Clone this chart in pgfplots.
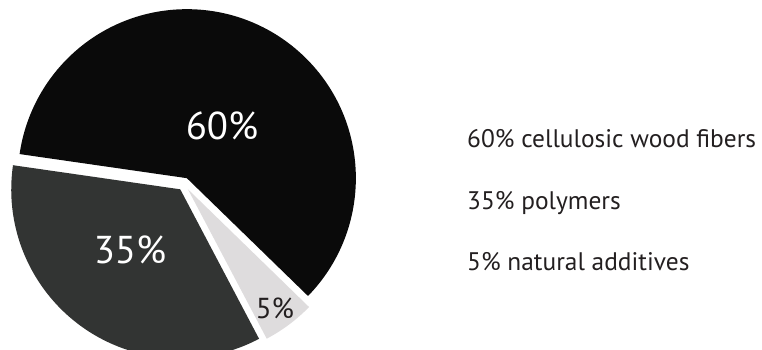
\documentclass[border=0pt]{standalone}
\usepackage{pgfplots}
\pgfplotsset{compat=1.18}
\usepackage{pgfplotstable}
\usepackage{fontspec}
\setmainfont{PT Sans}
\usetikzlibrary{calc}
\definecolor{sliceA}{HTML}{0A0A0A}
\definecolor{sliceB}{HTML}{323433}
\definecolor{sliceC}{HTML}{DEDCDD}
\definecolor{txt}{HTML}{231F20}

\pgfplotstableread{
value label
60 {cellulosic wood fibers}
35 {polymers}
5 {natural additives}
}\piedata

\begin{document}
\begin{tikzpicture}
\pgfplotstablegetelem{0}{value}\of\piedata \let\vA\pgfplotsretval
\pgfplotstablegetelem{1}{value}\of\piedata \let\vB\pgfplotsretval
\pgfplotstablegetelem{2}{value}\of\piedata \let\vC\pgfplotsretval
\pgfplotstablegetelem{0}{label}\of\piedata \let\lA\pgfplotsretval
\pgfplotstablegetelem{1}{label}\of\piedata \let\lB\pgfplotsretval
\pgfplotstablegetelem{2}{label}\of\piedata \let\lC\pgfplotsretval
\pgfmathsetmacro\sA{-44.2}
\pgfmathsetmacro\eA{\sA+3.6*\vA}
\pgfmathsetmacro\mA{(\sA+\eA)/2}
\pgfmathsetmacro\sB{\eA}
\pgfmathsetmacro\eB{\sB+3.6*\vB}
\pgfmathsetmacro\mB{(\sB+\eB)/2}
\pgfmathsetmacro\sC{\eB}
\pgfmathsetmacro\eC{\sC+3.6*\vC}
\pgfmathsetmacro\mC{(\sC+\eC)/2}
\path[use as bounding box] (0,0) rectangle (762bp,350bp);
\begin{axis}[
  at={(0,0)}, anchor=south west,
  x=1bp, y=1bp, xmin=0, xmax=762, ymin=0, ymax=350,
  scale only axis, hide axis, clip=true,
]
\fill[sliceA] ($(axis cs:184,166)+(\mA:6.5bp)$) -- +(\sA:169bp) arc[start angle=\sA, end angle=\eA, radius=169bp] -- cycle;
\fill[sliceB] ($(axis cs:184,166)+(\mB:6.5bp)$) -- +(\sB:169bp) arc[start angle=\sB, end angle=\eB, radius=169bp] -- cycle;
\fill[sliceC] ($(axis cs:184,166)+(\mC:6.5bp)$) -- +(\sC:169bp) arc[start angle=\sC, end angle=\eC, radius=169bp] -- cycle;
\node[white, font=\fontsize{39}{44}\selectfont] at (axis cs:222,224) {\vA\%};
\node[white, font=\fontsize{39}{44}\selectfont] at (axis cs:130,100) {\vB\%};
\node[txt, font=\fontsize{29}{34}\selectfont] at (axis cs:275,42) {\vC\%};
\node[txt, anchor=base west, inner sep=0pt, font=\fontsize{25.5}{30}\selectfont] at (axis cs:467,203) {\vA\% \lA};
\node[txt, anchor=base west, inner sep=0pt, font=\fontsize{25.5}{30}\selectfont] at (axis cs:467,141) {\vB\% \lB};
\node[txt, anchor=base west, inner sep=0pt, font=\fontsize{25.5}{30}\selectfont] at (axis cs:467,80) {\vC\% \lC};
\end{axis}
\end{tikzpicture}
\end{document}
